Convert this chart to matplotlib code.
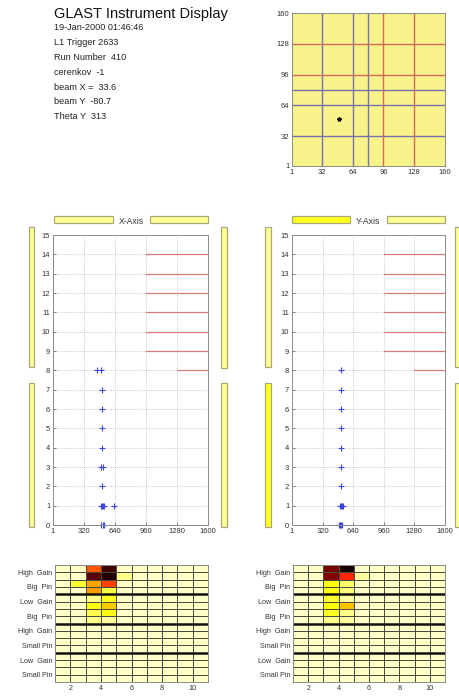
import matplotlib
matplotlib.use('Agg')
import matplotlib.pyplot as plt
from matplotlib.patches import Rectangle
import numpy as np

plt.rcParams['font.family'] = ['Liberation Sans', 'DejaVu Sans']

W, H = 459, 697

# ---------------- data ----------------
title = 'GLAST Instrument Display'
info_lines = ['19-Jan-2000 01:46:46', 'L1 Trigger 2633', 'Run Number  410',
              'cerenkov  -1', 'beam X =  33.6', 'beam Y  -80.7', 'Theta Y  313']

map_ticks = [1, 32, 64, 96, 128, 160]
map_blue_lines = [32, 64, 80]
map_red_lines = [96, 128]
map_hit_x = [50]
map_hit_y = [50]

layer_ticks = list(range(16))
strip_ticks = [1, 320, 640, 960, 1280, 1600]
dead_layers = [8, 9, 10, 11, 12, 13, 14]
dead_start = [1280, 960, 960, 960, 960, 960, 960]
dead_end = 1600

x_hit_strip = [450, 500, 510, 510, 510, 510, 497, 512, 510, 500, 508, 516, 525, 630, 500, 512, 525]
x_hit_layer = [8, 8, 7, 6, 5, 4, 3, 3, 2, 1, 1, 1, 1, 1, 0, 0, 0]
y_hit_strip = [518, 518, 518, 518, 518, 518, 518, 505, 512, 520, 530, 495, 505, 515, 525]
y_hit_layer = [8, 7, 6, 5, 4, 3, 2, 1, 1, 1, 1, 0, 0, 0, 0]

cal_row_labels = ['High  Gain', 'Big  Pin', 'Low  Gain', 'Big  Pin',
                  'High  Gain', 'Small Pin', 'Low  Gain', 'Small Pin']
cal_label_pos = [2, 4, 6, 8, 10, 12, 14, 16]
cal_col_ticks = [2, 4, 6, 8, 10]
cal_group_lines = [5, 9, 13]
cal_background = 0.945

x_cal_rows = [1, 1, 2, 2, 2, 3, 3, 3, 4, 4, 5, 5, 6, 6, 7, 7, 8, 8]
x_cal_cols = [3, 4, 3, 4, 5, 2, 3, 4, 3, 4, 3, 4, 3, 4, 3, 4, 3, 4]
x_cal_vals = [0.49, 0.08, 0.12, 0.04, 0.88, 0.80, 0.61, 0.46, 0.60, 0.82,
              0.88, 0.78, 0.76, 0.67, 0.82, 0.76, 0.88, 0.90]

y_cal_rows = [1, 1, 2, 2, 2, 3, 3, 4, 4, 5, 5, 6, 6, 7, 7, 8, 8]
y_cal_cols = [3, 4, 3, 4, 5, 3, 4, 3, 4, 3, 4, 3, 4, 3, 4, 3, 4]
y_cal_vals = [0.16, 0.02, 0.18, 0.42, 0.90, 0.75, 0.85, 0.76, 0.87,
              0.80, 0.90, 0.75, 0.66, 0.78, 0.88, 0.88, 0.90]

# ---------------- helpers ----------------
fig = plt.figure(figsize=(W / 100, H / 100), dpi=100)


def box(l, t, r, b):
    return [l / W, 1 - b / H, (r - l) / W, (b - t) / H]


def bar(l, t, r, b, color):
    fig.patches.append(Rectangle((l / W, 1 - b / H), (r - l) / W, (b - t) / H,
                                 transform=fig.transFigure, facecolor=color,
                                 edgecolor='#a8a878', linewidth=0.9))


TICK_FS = 5.5
SPINE = '#8c8c8c'


def style_axes(ax):
    for s in ax.spines.values():
        s.set_color(SPINE)
        s.set_linewidth(0.7)
    ax.tick_params(direction='in', length=2, width=0.5, colors='#555555',
                   labelsize=TICK_FS, labelcolor='#333333', pad=2)


# ---------------- text block ----------------
fig.text(54 / W, 1 - 14 / H, title, fontsize=10.5, va='center', ha='left', color='#111111')
for i, line in enumerate(info_lines):
    fig.text(54 / W, 1 - (28 + 14.8 * i) / H, line, fontsize=6.6, va='center',
             ha='left', color='#222222')

# ---------------- top map ----------------
axm = fig.add_axes(box(292, 13, 445, 166))
axm.set_facecolor('#f8f28a')
axm.set_xlim(1, 160)
axm.set_ylim(1, 160)
for v in map_blue_lines:
    axm.axvline(v, color='#7472ac', lw=1.0)
    axm.axhline(v, color='#7472ac', lw=1.0)
for v in map_red_lines:
    axm.axvline(v, color='#d26a5a', lw=1.0)
    axm.axhline(v, color='#d26a5a', lw=1.0)
axm.plot(map_hit_x, map_hit_y, marker='*', color='black', ms=3, ls='none')
axm.set_xticks(map_ticks)
axm.set_yticks(map_ticks)
style_axes(axm)


# ---------------- tracker views ----------------
def tracker(rect, strips, layers, label, label_x, bars_cfg):
    ax = fig.add_axes(box(*rect))
    ax.set_xlim(1, 1600)
    ax.set_ylim(0, 15)
    ax.set_xticks(strip_ticks)
    ax.set_yticks(layer_ticks)
    ax.grid(True, ls=':', color='#b8b8b8', lw=0.6)
    ax.set_axisbelow(True)
    for lay, x0 in zip(dead_layers, dead_start):
        ax.plot([x0, dead_end], [lay, lay], color='#e07878', lw=0.9)
    ax.plot(strips, layers, ls='none', marker='+', color='#3a46e0', ms=4, mew=0.8,
            clip_on=False)
    style_axes(ax)
    fig.text(label_x / W, 1 - 221 / H, label, fontsize=6.2, ha='center', va='center',
             color='#333333')
    for cfg in bars_cfg:
        bar(*cfg)
    return ax


PALE = '#ffff96'
BRIGHT = '#ffff1e'

tracker((53, 235, 208, 525), x_hit_strip, x_hit_layer, 'X-Axis', 131,
        [(54, 216, 113, 223, PALE), (150, 216, 208, 223, PALE),
         (29, 227, 34, 367, PALE), (29, 383, 34, 527, PALE),
         (221, 227, 227, 368, PALE), (221, 383, 227, 527, PALE)])
tracker((292, 235, 445, 525), y_hit_strip, y_hit_layer, 'Y-Axis', 368,
        [(292, 216, 350, 223, BRIGHT), (387, 216, 445, 223, PALE),
         (265, 227, 271, 367, PALE), (265, 383, 271, 527, BRIGHT),
         (455, 227, 462, 367, PALE), (455, 383, 462, 527, PALE)])


# ---------------- calorimeter maps ----------------
def calmap(rect, rows, cols, vals):
    ax = fig.add_axes(box(*rect))
    data = np.full((16, 10), cal_background)
    for r, c, v in zip(rows, cols, vals):
        data[r - 1, c - 1] = v
    xe = np.arange(1, 12)
    ye = np.arange(1, 18)
    ax.pcolormesh(xe, ye, data, cmap='hot', vmin=0, vmax=1,
                  edgecolors='#4a4a40', linewidth=0.6)
    ax.set_xlim(1, 11)
    ax.set_ylim(17, 1)
    for g in cal_group_lines:
        ax.axhline(g, color='#111111', lw=1.8)
    ax.set_xticks(cal_col_ticks)
    ax.set_yticks(cal_label_pos)
    ax.set_yticklabels(cal_row_labels)
    style_axes(ax)
    ax.tick_params(length=0, labelsize=5.2)
    return ax


calmap((55, 565, 208, 682), x_cal_rows, x_cal_cols, x_cal_vals)
calmap((293, 565, 445, 682), y_cal_rows, y_cal_cols, y_cal_vals)

fig.savefig('out.png', dpi=100)
